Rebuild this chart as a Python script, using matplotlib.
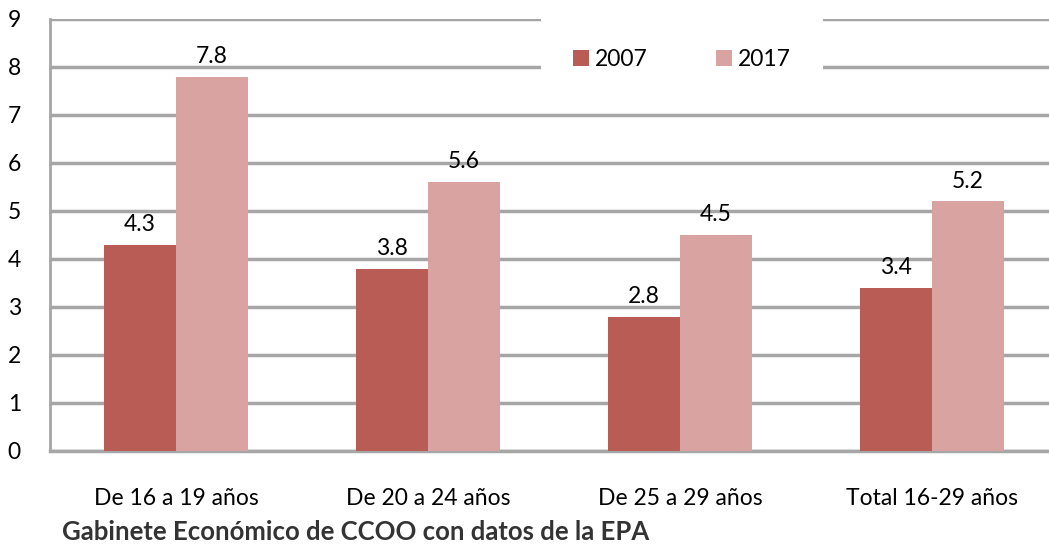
import numpy as np
import matplotlib.pyplot as plt

# Datos
categorias = ["De 16 a 19 años", "De 20 a 24 años", "De 25 a 29 años", "Total 16-29 años"]
valores_2007 = [4.3, 3.8, 2.8, 3.4]
valores_2017 = [7.8, 5.6, 4.5, 5.2]
series = ["2007", "2017"]

color_2007 = "#B85C55"
color_2017 = "#D9A3A2"
gris = "#A6A6A6"

plt.rcParams['font.family'] = ['Lato', 'DejaVu Sans']

fig = plt.figure(figsize=(10.49, 5.45), dpi=100)
ax = fig.add_axes([0.0477, 0.1725, 0.961, 0.7927])

x = np.arange(len(categorias))
ancho = 0.286

b1 = ax.bar(x - ancho / 2, valores_2007, ancho, color=color_2007, label=series[0], zorder=3)
b2 = ax.bar(x + ancho / 2, valores_2017, ancho, color=color_2017, label=series[1], zorder=3)

# Etiquetas de valores
for barras, vals in [(b1, valores_2007), (b2, valores_2017)]:
    for rect, v in zip(barras, vals):
        ax.annotate(f"{v:.1f}", (rect.get_x() + rect.get_width() / 2, v),
                    xytext=(0, 7), textcoords="offset points",
                    ha="center", va="bottom", fontsize=16.5, color="black")

ax.set_xlim(-0.5, 3.5)
ax.set_ylim(0, 9)
ax.set_yticks(range(0, 10))
ax.set_xticks(x)
ax.set_xticklabels(categorias, fontsize=16.5)
ax.tick_params(axis='y', labelsize=16.5, length=0, pad=21)
ax.tick_params(axis='x', length=0, pad=27)

ax.grid(axis='y', color=gris, linewidth=2.5, zorder=0)
ax.set_axisbelow(True)
for s in ["top", "right"]:
    ax.spines[s].set_visible(False)
ax.spines["left"].set_color(gris)
ax.spines["left"].set_linewidth(2)
ax.spines["bottom"].set_color(gris)
ax.spines["bottom"].set_linewidth(2.5)

leg = ax.legend(ncol=2, loc="upper center", bbox_to_anchor=(0.627, 1.005),
                fontsize=16.5, frameon=True, fancybox=False, edgecolor="none",
                facecolor="white", framealpha=1, handlelength=0.7, handleheight=0.7,
                handletextpad=0.25, columnspacing=3.0, borderpad=1.4, borderaxespad=0)
leg.get_frame().set_linewidth(0)
leg.set_zorder(5)

fig.text(0.059, 0.01, "Gabinete Económico de CCOO con datos de la EPA",
         fontsize=18.5, fontweight="bold", color="#333333", family=['Lato', 'DejaVu Sans'])

fig.savefig("out.png", dpi=100)
